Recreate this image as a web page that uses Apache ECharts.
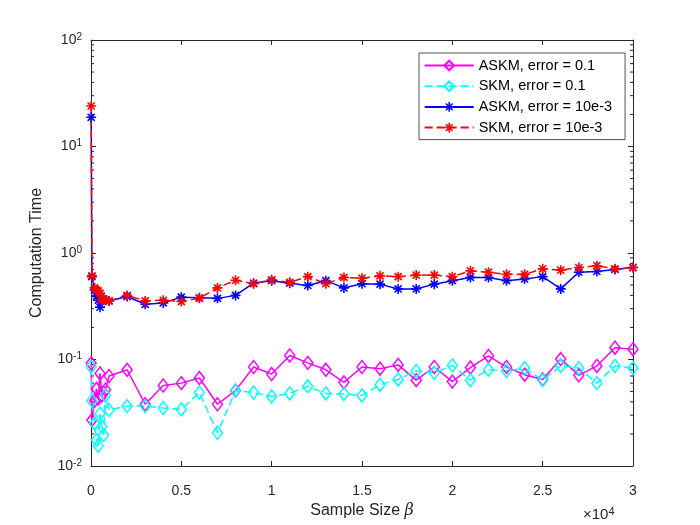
<!DOCTYPE html>
<html>
<head>
<meta charset="utf-8">
<script src="https://cdn.jsdelivr.net/npm/echarts@6/dist/echarts.min.js"></script>
<style>
html,body{margin:0;padding:0;background:#fff;}
#chart{width:700px;height:525px;}
</style>
</head>
<body>
<div id="chart"></div>
<script>
// ---- data ----
const sampleSizes = [10, 50, 200, 300, 400, 500, 600, 700, 800, 1000,
  2000, 3000, 4000, 5000, 6000, 7000, 8000, 9000, 10000, 11000,
  12000, 13000, 14000, 15000, 16000, 17000, 18000, 19000, 20000, 21000,
  22000, 23000, 24000, 25000, 26000, 27000, 28000, 29000, 30000];
const askm01 = [0.092, 0.027, 0.041, 0.053, 0.043, 0.074, 0.046, 0.049, 0.052, 0.070,
  0.080, 0.038, 0.057, 0.060, 0.067, 0.038, 0.051, 0.085, 0.073, 0.109,
  0.093, 0.080, 0.061, 0.085, 0.082, 0.089, 0.064, 0.085, 0.062, 0.084,
  0.108, 0.085, 0.072, 0.065, 0.101, 0.071, 0.087, 0.129, 0.125];
const skm01 = [0.0855, 0.041, 0.025, 0.0175, 0.0155, 0.031, 0.0235, 0.0195, 0.046, 0.0335,
  0.0365, 0.0365, 0.035, 0.034, 0.049, 0.0205, 0.051, 0.049, 0.045, 0.048,
  0.056, 0.048, 0.0475, 0.046, 0.058, 0.065, 0.078, 0.075, 0.088, 0.064,
  0.080, 0.078, 0.083, 0.064, 0.087, 0.083, 0.060, 0.087, 0.083];
const askm3 = [18.8, 0.60, 0.45, 0.39, 0.36, 0.31, 0.36, 0.37, 0.36, 0.355,
  0.39, 0.33, 0.34, 0.385, 0.38, 0.375, 0.40, 0.52, 0.55, 0.52,
  0.495, 0.55, 0.47, 0.515, 0.51, 0.46, 0.46, 0.51, 0.55, 0.59,
  0.59, 0.55, 0.57, 0.60, 0.46, 0.66, 0.67, 0.70, 0.73];
const skm3 = [24, 0.61, 0.47, 0.45, 0.44, 0.42, 0.36, 0.37, 0.36, 0.355,
  0.40, 0.355, 0.36, 0.35, 0.375, 0.47, 0.555, 0.515, 0.56, 0.53,
  0.60, 0.515, 0.59, 0.58, 0.61, 0.60, 0.62, 0.62, 0.60, 0.68,
  0.66, 0.63, 0.63, 0.71, 0.69, 0.73, 0.76, 0.71, 0.73];
const seriesNames = ['ASKM, error = 0.1', 'SKM, error = 0.1', 'ASKM, error = 10e-3', 'SKM, error = 10e-3'];
const xTickLabels = ['0', '0.5', '1', '1.5', '2', '2.5', '3'];

// ---- chart ----
const FONT = '"Liberation Sans", Arial, Helvetica, sans-serif';
const AX = '#262626';
const STAR = 'path://M-0.8,-5L0.8,-5L0.8,5L-0.8,5Z M-5,-0.8L5,-0.8L5,0.8L-5,0.8Z M-4.1,-2.97L-2.97,-4.1L4.1,2.97L2.97,4.1Z M4.1,-2.97L-2.97,4.1L-4.1,2.97L2.97,-4.1Z';

function pairs(ys) { return sampleSizes.map((x, i) => [x, ys[i]]); }

const chart = echarts.init(document.getElementById('chart'), null, {renderer: 'canvas'});

function mkSeries(name, ys, color, dashed, symbol, size, hollow) {
  return {
    name: name, type: 'line', data: pairs(ys),
    xAxisIndex: 0, yAxisIndex: 0,
    symbol: symbol, symbolSize: size, showSymbol: true, showAllSymbol: true,
    lineStyle: {color: color, width: 1.5, type: dashed ? [8, 4] : 'solid'},
    itemStyle: hollow ? {color: 'rgba(0,0,0,0)', borderColor: color, borderWidth: 1.5} : {color: color, borderWidth: 0},
    emphasis: {disabled: true},
    z: 2
  };
}

const logLabel = {
  formatter: function (v) {
    const e = Math.round(Math.log10(v));
    return '{b|10}{s|' + e + '}';
  },
  rich: {
    b: {fontFamily: FONT, fontSize: 14, color: AX, lineHeight: 16},
    s: {fontFamily: FONT, fontSize: 10, color: AX, lineHeight: 10, verticalAlign: 'top', padding: [0, 0, 8, 0]}
  },
  margin: 9
};

const option = {
  animation: false,
  backgroundColor: '#fff',
  grid: {left: 91, right: 67, top: 40, bottom: 59, containLabel: false},
  legend: {
    orient: 'vertical', left: 419, top: 53,
    itemWidth: 49, itemHeight: 12, itemGap: 4.7,
    padding: [4.5, 13, 4, 4.7],
    borderColor: AX, borderWidth: 0.8, backgroundColor: '#fff',
    textStyle: {fontFamily: FONT, fontSize: 14.5, color: '#000', lineHeight: 16},
    data: seriesNames
  },
  xAxis: [{
    type: 'value', min: 0, max: 30000, interval: 5000, position: 'bottom',
    name: 'Sample Size {i|β}', nameLocation: 'middle', nameGap: 37,
    nameTextStyle: {fontFamily: FONT, fontSize: 16, color: AX,
      rich: {i: {fontFamily: '"DejaVu Serif", "Liberation Serif", serif', fontStyle: 'italic', fontSize: 16, color: AX}}},
    axisLine: {show: true, lineStyle: {color: AX, width: 1}},
    axisTick: {show: true, inside: true, length: 5, lineStyle: {color: AX}},
    axisLabel: {fontFamily: FONT, fontSize: 14, color: AX, margin: 18,
      formatter: function (v) { return xTickLabels[Math.round(v / 5000)]; }},
    splitLine: {show: false}
  }, {
    type: 'value', min: 0, max: 30000, interval: 5000, position: 'top',
    axisLine: {show: true, onZero: false, lineStyle: {color: AX, width: 1}},
    axisTick: {show: true, inside: true, length: 5, lineStyle: {color: AX}},
    axisLabel: {show: false}, splitLine: {show: false}
  }],
  yAxis: [{
    type: 'log', logBase: 10, min: 0.01, max: 100, position: 'left',
    name: 'Computation Time', nameLocation: 'middle', nameGap: 46,
    nameTextStyle: {fontFamily: FONT, fontSize: 16, color: AX},
    axisLine: {show: true, lineStyle: {color: AX, width: 1}},
    axisTick: {show: true, inside: true, length: 5, lineStyle: {color: AX}},
    axisLabel: logLabel,
    splitLine: {show: false}, minorTick: {show: false}
  }, {
    type: 'log', logBase: 10, min: 0.01, max: 100, position: 'right',
    axisLine: {show: true, onZero: false, lineStyle: {color: AX, width: 1}},
    axisTick: {show: true, inside: true, length: 5, lineStyle: {color: AX}},
    axisLabel: {show: false}, splitLine: {show: false}
  }],
  series: [
    mkSeries(seriesNames[0], askm01, '#FF00FF', false, 'diamond', [10, 13], true),
    mkSeries(seriesNames[1], skm01, '#00FFFF', true, 'diamond', [10, 13], true),
    mkSeries(seriesNames[2], askm3, '#0000FF', false, STAR, 10, false),
    mkSeries(seriesNames[3], skm3, '#FF0000', true, STAR, 10, false)
  ]
};
chart.setOption(option);

// minor ticks on log axes + x10^4 multiplier, placed through the library's scales
const x0 = chart.convertToPixel({xAxisIndex: 0}, 0);
const x1 = chart.convertToPixel({xAxisIndex: 0}, 30000);
const graphics = [];
for (let d = -2; d <= 1; d++) {
  for (let k = 2; k <= 9; k++) {
    const y = chart.convertToPixel({yAxisIndex: 0}, k * Math.pow(10, d));
    graphics.push({type: 'line', shape: {x1: x0, y1: y, x2: x0 + 3, y2: y}, style: {stroke: AX, lineWidth: 1}, silent: true});
    graphics.push({type: 'line', shape: {x1: x1, y1: y, x2: x1 - 3, y2: y}, style: {stroke: AX, lineWidth: 1}, silent: true});
  }
}
const yBottom = chart.convertToPixel({yAxisIndex: 0}, 0.01);
graphics.push({
  type: 'text', left: x1 - 50, top: yBottom + 40, silent: true,
  style: {
    text: '{m|×10}{s|4}',
    rich: {
      m: {fontFamily: FONT, fontSize: 15, fill: AX, lineHeight: 17},
      s: {fontFamily: FONT, fontSize: 11, fill: AX, lineHeight: 11, verticalAlign: 'top', padding: [0, 0, 8, 0]}
    }
  }
});
chart.setOption({graphic: graphics});
</script>
</body>
</html>
